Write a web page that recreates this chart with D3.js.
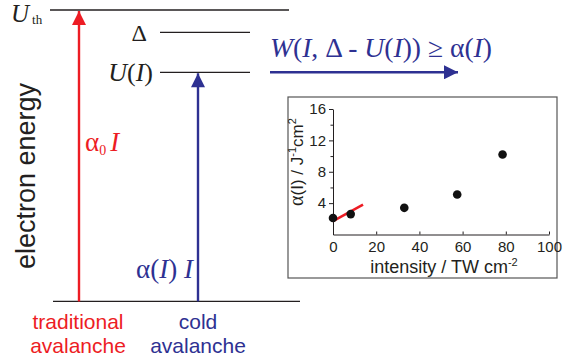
<!DOCTYPE html>
<html>
<head>
<meta charset="utf-8">
<script src="https://cdn.jsdelivr.net/npm/d3@7"></script>
<style>
  body { margin: 0; background: #fff; }
  .serif { font-family: "Liberation Serif", "DejaVu Serif", serif; }
  .sans { font-family: "Liberation Sans", Arial, sans-serif; }
</style>
</head>
<body>
<script>
// inset data: alpha(I) vs intensity
var intensity = [0, 8.2, 33, 57.5, 78.5];
var alphaVals = [2.1, 2.6, 3.4, 5.1, 10.2];
var fitX = [0, 13.9];
var fitY = [1.7, 3.8];
var xTicks = [0, 20, 40, 60, 80, 100];
var yTicks = [4, 8, 12, 16];
var yMinor = [2, 6, 10, 14];

// energy levels for the left diagram (arbitrary energy units)
var levelNames = ["Uth", "Delta", "UI", "ground"];
var levelEnergy = [10, 9.05, 7.35, -2.4];

var red = "#ed1c24", navy = "#2e3192";

var svg = d3.select("body").append("svg")
  .attr("width", 563)
  .attr("height", 360);

var defs = svg.append("defs");
function marker(id, col) {
  defs.append("marker")
    .attr("id", id)
    .attr("viewBox", "0 0 10 10")
    .attr("refX", 10).attr("refY", 5)
    .attr("markerWidth", 20).attr("markerHeight", 14)
    .attr("markerUnits", "userSpaceOnUse")
    .attr("orient", "auto")
    .append("path")
      .attr("d", "M0,0 L10,5 L0,10 Z")
      .style("fill", col);
}
marker("arRed", red);
marker("arNavy", navy);

var eScale = d3.scaleLinear().domain([0, 10]).range([245, 10]);
var lv = {};
levelNames.forEach(function (n, i) { lv[n] = eScale(levelEnergy[i]); });

var diag = svg.append("g");
// level lines
diag.append("line").attr("x1", 50).attr("x2", 289).attr("y1", lv.Uth).attr("y2", lv.Uth);
diag.append("line").attr("x1", 160).attr("x2", 250).attr("y1", lv.Delta).attr("y2", lv.Delta);
diag.append("line").attr("x1", 160).attr("x2", 250).attr("y1", lv.UI).attr("y2", lv.UI);
diag.append("line").attr("x1", 53).attr("x2", 300).attr("y1", lv.ground).attr("y2", lv.ground);
diag.selectAll("line").style("stroke", "#231f20").style("stroke-width", 1.3);

// arrows
diag.append("line")
  .attr("x1", 79).attr("x2", 79).attr("y1", lv.ground).attr("y2", lv.Uth + 1)
  .style("stroke", red).style("stroke-width", 2.4)
  .attr("marker-end", "url(#arRed)");
diag.append("line")
  .attr("x1", 198).attr("x2", 198).attr("y1", lv.ground).attr("y2", lv.UI + 1)
  .style("stroke", navy).style("stroke-width", 2.4)
  .attr("marker-end", "url(#arNavy)");
diag.append("line")
  .attr("x1", 270).attr("x2", 458).attr("y1", lv.UI).attr("y2", lv.UI)
  .style("stroke", navy).style("stroke-width", 2.4)
  .attr("marker-end", "url(#arNavy)");

// labels
var t = diag.append("text").attr("class", "serif").attr("x", 11).attr("y", lv.Uth + 12)
  .style("font-size", "25px").style("fill", "#231f20");
t.append("tspan").style("font-style", "italic").text("U");
t.append("tspan").attr("dx", 3).attr("dy", 2).style("font-size", "13px").text("th");

diag.append("text").attr("class", "serif").attr("x", 147).attr("y", lv.Delta + 9)
  .attr("text-anchor", "end").style("font-size", "24px").style("fill", "#231f20").text("Δ");

var u = diag.append("text").attr("class", "serif").attr("x", 153).attr("y", lv.UI + 9)
  .attr("text-anchor", "end").style("font-size", "26px").style("fill", "#231f20");
u.append("tspan").style("font-style", "italic").text("U");
u.append("tspan").text("(");
u.append("tspan").style("font-style", "italic").text("I");
u.append("tspan").text(")");

var w = diag.append("text").attr("class", "serif").attr("x", 270).attr("y", 57)
  .attr("textLength", 222).attr("lengthAdjust", "spacingAndGlyphs")
  .style("font-size", "27px").style("fill", navy);
w.append("tspan").style("font-style", "italic").text("W");
w.append("tspan").text("(");
w.append("tspan").style("font-style", "italic").text("I");
w.append("tspan").text(", Δ - ");
w.append("tspan").style("font-style", "italic").text("U");
w.append("tspan").text("(");
w.append("tspan").style("font-style", "italic").text("I");
w.append("tspan").text(")) ≥ α(");
w.append("tspan").style("font-style", "italic").text("I");
w.append("tspan").text(")");

var a0 = diag.append("text").attr("class", "serif").attr("x", 85).attr("y", 151)
  .style("font-size", "27px").style("fill", red);
a0.append("tspan").text("α");
a0.append("tspan").attr("dy", 4).style("font-size", "14px").text("0");
a0.append("tspan").attr("dy", -4).attr("dx", 4).style("font-style", "italic").text("I");

var ai = diag.append("text").attr("class", "serif").attr("x", 193).attr("y", 278)
  .attr("text-anchor", "end").style("font-size", "27px").style("fill", navy);
ai.append("tspan").text("α(");
ai.append("tspan").style("font-style", "italic").text("I");
ai.append("tspan").text(") ");
ai.append("tspan").style("font-style", "italic").text("I");

diag.append("text").attr("class", "sans")
  .attr("transform", "translate(35,176) rotate(-90)")
  .attr("text-anchor", "middle")
  .style("font-size", "27px").style("fill", "#231f20")
  .text("electron energy");

[["traditional", "avalanche", 78, red], ["cold", "avalanche", 198, navy]].forEach(function (d) {
  diag.append("text").attr("class", "sans").attr("x", d[2]).attr("y", 329)
    .attr("text-anchor", "middle").style("font-size", "21px").style("fill", d[3]).text(d[0]);
  diag.append("text").attr("class", "sans").attr("x", d[2]).attr("y", 353)
    .attr("text-anchor", "middle").style("font-size", "21px").style("fill", d[3]).text(d[1]);
});

// inset
svg.append("rect")
  .attr("x", 288).attr("y", 97).attr("width", 269).attr("height", 181)
  .style("fill", "#fff").style("stroke", "#555").style("stroke-width", 1.2);

var x = d3.scaleLinear().domain([0, 100]).range([333, 549]);
var y = d3.scaleLinear().domain([0, 16]).range([234.5, 109]);
var ink = "#231f20";

var gx = svg.append("g").attr("transform", "translate(0," + y(0) + ")")
  .call(d3.axisBottom(x).tickValues(xTicks).tickSizeInner(-3).tickSizeOuter(0).tickPadding(7));
var gy = svg.append("g").attr("transform", "translate(" + x(0) + ",0)")
  .call(d3.axisLeft(y).tickValues(yTicks).tickSizeInner(4).tickSizeOuter(0).tickPadding(3));
svg.append("g").attr("transform", "translate(" + x(0) + ",0)")
  .call(d3.axisLeft(y).tickValues(yMinor).tickSize(2.5).tickFormat(""))
  .select(".domain").remove();
svg.selectAll(".domain, .tick line").style("stroke", ink).style("stroke-width", 1);
[gx, gy].forEach(function (g) {
  g.selectAll("text").attr("class", "sans").style("font-size", "15px").style("fill", ink);
});

svg.append("path")
  .datum(d3.zip(fitX, fitY))
  .attr("d", d3.line().x(function (d) { return x(d[0]); }).y(function (d) { return y(d[1]); }))
  .style("stroke", red).style("stroke-width", 2.5).style("fill", "none");

svg.selectAll(".pt")
  .data(d3.zip(intensity, alphaVals))
  .enter().append("circle")
    .attr("class", "pt")
    .attr("cx", function (d) { return x(d[0]); })
    .attr("cy", function (d) { return y(d[1]); })
    .attr("r", 4.3)
    .style("fill", "#111");

var xt = svg.append("text").attr("class", "sans").attr("x", 444).attr("y", 273)
  .attr("text-anchor", "middle").style("font-size", "18px").style("fill", ink);
xt.append("tspan").text("intensity / TW cm");
xt.append("tspan").attr("dy", -7).style("font-size", "11px").text("-2");

var yt = svg.append("text").attr("class", "sans")
  .attr("transform", "translate(303,162) rotate(-90)")
  .attr("text-anchor", "middle").style("font-size", "17px").style("fill", ink);
yt.append("tspan").attr("class", "serif").style("font-size", "20px").text("α");
yt.append("tspan").text("(I) / J");
yt.append("tspan").attr("dy", -7).style("font-size", "11px").text("-1");
yt.append("tspan").attr("dy", 7).text("cm");
yt.append("tspan").attr("dy", -7).style("font-size", "11px").text("2");
</script>
</body>
</html>
